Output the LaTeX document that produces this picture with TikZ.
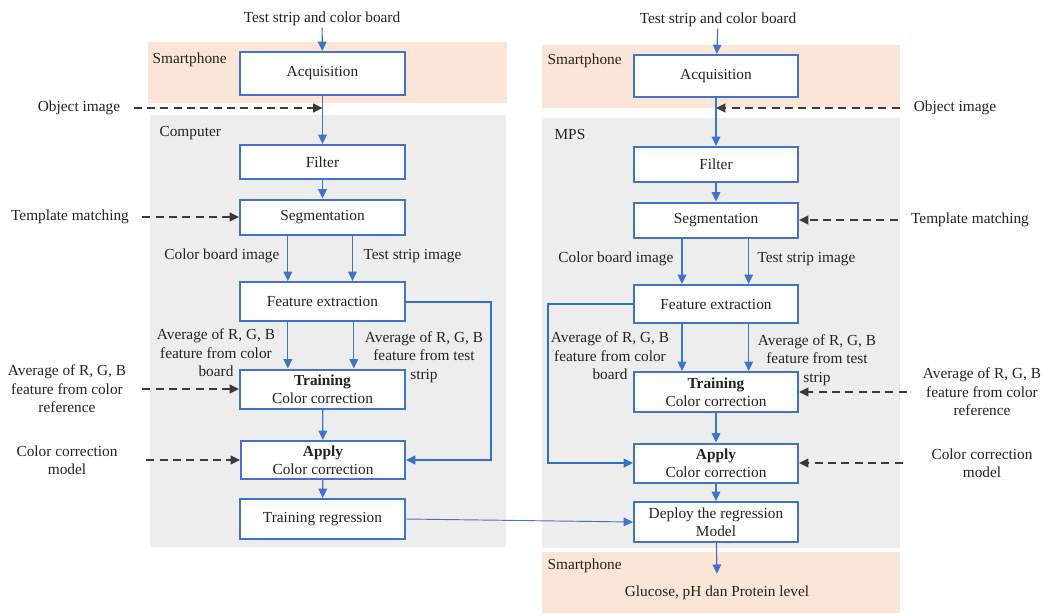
\documentclass[tikz,border=0pt]{standalone}
\usepackage{fontspec}
\setmainfont{Liberation Serif}
\usetikzlibrary{arrows.meta,calc}
\definecolor{boxblue}{HTML}{4472C4}
\definecolor{linkblue}{HTML}{3F74CC}
\definecolor{loopblue}{HTML}{2F6FD0}
\definecolor{phonebg}{HTML}{FBE5D6}
\definecolor{pcbg}{HTML}{EDEDED}
\definecolor{ink}{HTML}{222222}
\definecolor{dashgray}{HTML}{3A3A3A}

\begin{document}
\begin{tikzpicture}[x=0.75pt,y=-0.75pt,
  font=\fontsize{11.5}{13.8}\selectfont, text=ink,
  stage/.style={draw=boxblue, line width=1.5pt, fill=white, inner sep=0pt, align=center},
  span/.style 2 args={minimum width=#1*0.75pt, minimum height=#2*0.75pt},
  lbl/.style={inner sep=1pt, align=center},
  tip/.style={-{Triangle[length=7pt,width=6.5pt]}},
  flow/.style={draw=linkblue, line width=0.9pt, tip},
  feed/.style={draw=loopblue, line width=1.5pt, tip},
  extin/.style={draw=dashgray, line width=1.5pt, dash pattern=on 6pt off 4pt, tip},
  phone/.style={fill=phonebg},
  host/.style={fill=pcbg},
]
\useasboundingbox (0,0) rectangle (1042,615);

% ---------- background regions ----------
\path[phone] (148,42) rectangle (507,103);
\path[host]  (150,115) rectangle (506,547);
\path[phone] (542,45) rectangle (900,108);
\path[host]  (542,118) rectangle (900,548);
\path[phone] (542,552) rectangle (900,613);

% ---------- training pipeline (left) ----------
\node[lbl] (srcL) at (322,19) {Test strip and color board};
\node[lbl, anchor=west] (phL) at (151,60) {Smartphone};
\node[stage, span={165}{43}] (acqL) at (322.5,73.5) {Acquisition};
\node[lbl, anchor=west] (pcL) at (158,133) {Computer};
\node[stage, span={165}{34}] (filL) at (322.5,162) {Filter};
\node[stage, span={165}{35}] (segL) at (322.5,217) {Segmentation};
\node[stage, span={165}{39}] (feL) at (322.5,301.5) {Feature extraction};
\node[stage, span={165}{39}] (trL) at (322.5,389) {\textbf{Training}\\Color correction};
\node[stage, span={164}{38}] (apL) at (323,460) {\textbf{Apply}\\Color correction};
\node[stage, span={165}{40}] (rgL) at (322.5,519) {Training regression};

\node[lbl] (objL) at (79,108) {Object image};
\node[lbl] (tmL) at (70,217) {Template matching};
\node[lbl, anchor=east] (cbiL) at (281,256) {Color board image};
\node[lbl, anchor=west] (tsiL) at (362,256) {Test strip image};
\node[lbl] (avbL) at (216,353) {Average of R, G, B\\feature from color\\board};
\node[lbl] (avtL) at (424,357) {Average of R, G, B\\feature from test\\strip};
\node[lbl] (refL) at (67,389) {Average of R, G, B\\feature from color\\reference};
\node[lbl] (ccmL) at (67,460) {Color correction\\model};

\draw[flow] (srcL) -- (acqL);
\draw[flow] (acqL) -- (filL);
\draw[extin] ([xshift=9pt]objL.east) -- (acqL.south |- objL.east);
\draw[flow] (filL) -- (segL);
\draw[extin] ([xshift=9pt]tmL.east) -- (segL.west);
\draw[flow] ([xshift=-26pt]segL.south) -- ([xshift=-26pt]feL.north);
\draw[flow] ([xshift=22.5pt]segL.south) -- ([xshift=22.5pt]feL.north);
\draw[flow] ([xshift=-26pt]feL.south) -- ([xshift=-26pt]trL.north);
\draw[flow] ([xshift=23.5pt]feL.south) -- ([xshift=23.5pt]trL.north);
\draw[extin] ([xshift=11pt]refL.east) -- (trL.west);
\draw[flow] (trL) -- (apL);
\draw[feed] (feL.east) -| ($(apL.east)+(85,0)$) -- (apL.east);
\draw[extin] ([xshift=20.5pt]ccmL.east) -- (apL.west);
\draw[flow] (apL) -- (rgL);

% ---------- deployment pipeline (right) ----------
\node[lbl] (srcR) at (718,20) {Test strip and color board};
\node[lbl, anchor=west] (phR) at (546,61) {Smartphone};
\node[stage, span={164}{42}] (acqR) at (716,76) {Acquisition};
\node[lbl, anchor=west] (mpsR) at (553,134) {MPS};
\node[stage, span={164}{35}] (filR) at (716,164.5) {Filter};
\node[stage, span={164}{35}] (segR) at (716,220) {Segmentation};
\node[stage, span={164}{38}] (feR) at (716,304) {Feature extraction};
\node[stage, span={164}{40}] (trR) at (716,392) {\textbf{Training}\\Color correction};
\node[stage, span={164}{39}] (apR) at (716,463) {\textbf{Apply}\\Color correction};
\node[stage, span={164}{40}] (dpR) at (716,522) {Deploy the regression\\Model};
\node[lbl, anchor=west] (phR2) at (546,566) {Smartphone};
\node[lbl] (outR) at (717,593) {Glucose, pH dan Protein level};

\node[lbl] (objR) at (955,108) {Object image};
\node[lbl] (tmR) at (970,220) {Template matching};
\node[lbl, anchor=east] (cbiR) at (675,259) {Color board image};
\node[lbl, anchor=west] (tsiR) at (756,259) {Test strip image};
\node[lbl] (avbR) at (610,356) {Average of R, G, B\\feature from color\\board};
\node[lbl] (avtR) at (817,360) {Average of R, G, B\\feature from test\\strip};
\node[lbl] (refR) at (982,392) {Average of R, G, B\\feature from color\\reference};
\node[lbl] (ccmR) at (982,463) {Color correction\\model};

\draw[flow] (srcR) -- (acqR);
\draw[flow] (acqR) -- (filR);
\draw[extin] ([xshift=-9.5pt]objR.west) -- (acqR.south |- objR.west);
\draw[flow] (filR) -- (segR);
\draw[extin] ([xshift=-9pt]tmR.west) -- (segR.east);
\draw[flow] ([xshift=-25.5pt]segR.south) -- ([xshift=-25.5pt]feR.north);
\draw[flow] ([xshift=24.5pt]segR.south) -- ([xshift=24.5pt]feR.north);
\draw[flow] ([xshift=-25.5pt]feR.south) -- ([xshift=-25.5pt]trR.north);
\draw[flow] ([xshift=24.5pt]feR.south) -- ([xshift=24.5pt]trR.north);
\draw[extin] ([xshift=-11pt]refR.west) -- (trR.east);
\draw[flow] (trR) -- (apR);
\draw[feed] (feR.west) -| ($(apR.west)+(-85,0)$) -- (apR.west);
\draw[extin] ([xshift=-20.5pt]ccmR.west) -- (apR.east);
\draw[flow] (apR) -- (dpR);
\draw[flow] (dpR) -- ([yshift=8pt]outR.north);

% ---------- hand-over of the trained model ----------
\draw[flow, line width=0.7pt] (rgL.east) -- (dpR.west);
\end{tikzpicture}
\end{document}
